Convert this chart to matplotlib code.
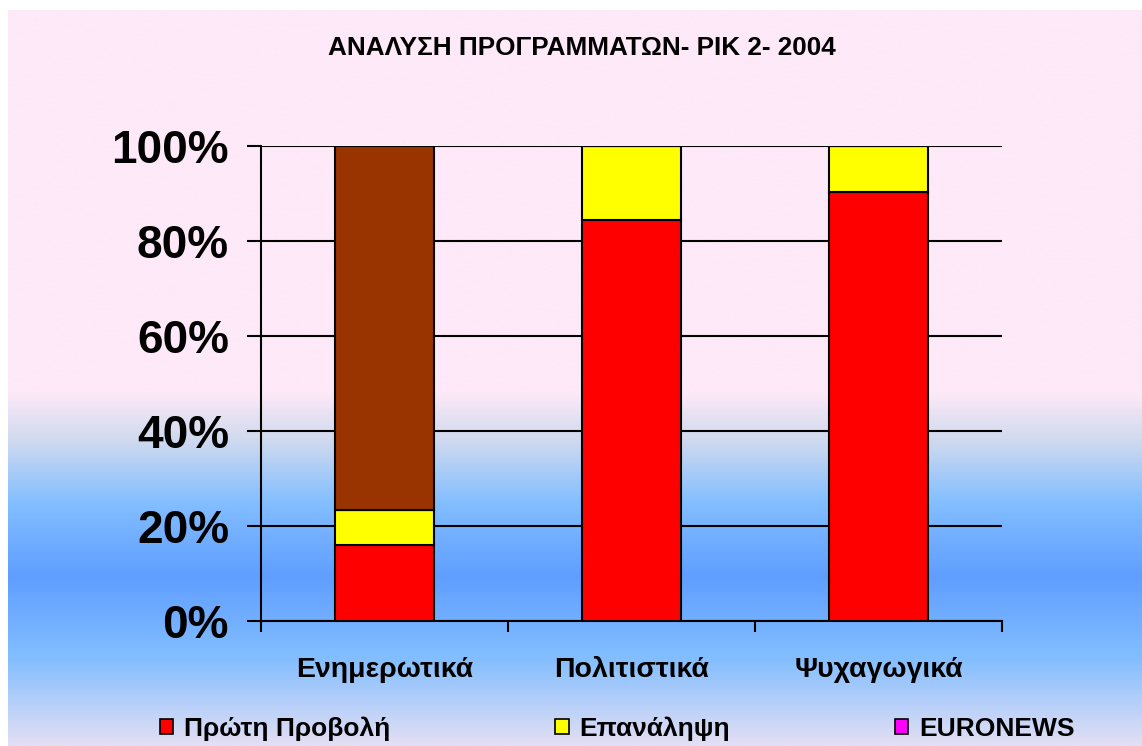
import numpy as np
import matplotlib
matplotlib.use("Agg")
import matplotlib.pyplot as plt
from matplotlib.patches import Patch
from matplotlib.colors import LinearSegmentedColormap

plt.rcParams['font.family'] = ['Liberation Sans', 'DejaVu Sans']
plt.rcParams['font.weight'] = 'bold'

# data (percent of each category)
categories = ['Ενημερωτικά', 'Πολιτιστικά', 'Ψυχαγωγικά']
first_run = [16.0, 84.4, 90.3]     # Πρώτη Προβολή
repeat = [7.4, 15.6, 9.7]          # Επανάληψη
euronews = [0.0, 0.0, 0.0]         # EURONEWS
other = [76.6, 0.0, 0.0]           # brown series (not in legend)
yticks = [0, 20, 40, 60, 80, 100]

W, H = 1142, 746
fig = plt.figure(figsize=(W / 100, H / 100), dpi=100)
fig.patch.set_facecolor('white')

# background gradient panel (top pink -> blue band -> lavender at bottom)
stops = [(0.0, '#FDE9F8'), ((393 - 10) / 736, '#FDE9F8'), ((440 - 10) / 736, '#D0DAEE'),
         ((503 - 10) / 736, '#83BEFF'), ((578 - 10) / 736, '#5F9EFF'),
         ((660 - 10) / 736, '#83BEFF'), (1.0, '#E3DFF4')]
cmap = LinearSegmentedColormap.from_list('bg', stops)
bg = fig.add_axes([8 / W, 0, 1 - 8 / W, 736 / H])
bg.imshow(np.linspace(0, 1, 500).reshape(-1, 1), cmap=cmap, aspect='auto',
          interpolation='bilinear')
bg.axis('off')

ax = fig.add_axes([261 / W, 1 - 621 / H, 741 / W, 475 / H])
ax.patch.set_alpha(0)

x = np.arange(len(categories))
bw = 0.4
ec = dict(edgecolor='black', linewidth=1.5)
b = np.zeros(len(categories))
for vals, col in [(first_run, '#FF0000'), (repeat, '#FFFF00'),
                  (euronews, '#FF00FF'), (other, '#993300')]:
    ax.bar(x, vals, bw, bottom=b, color=col, zorder=3, **ec)
    b = b + np.array(vals)

ax.set_xlim(-0.5, len(categories) - 0.5)
ax.set_ylim(0, 100)
ax.set_yticks(yticks)
ax.set_yticklabels([f'{v}%' for v in yticks], fontsize=33, fontweight='bold')
ax.tick_params(axis='y', direction='out', length=10, width=1.5, pad=13)
ax.yaxis.grid(True, color='black', linewidth=1.5, zorder=0)
ax.set_axisbelow(True)

ax.set_xticks(x)
ax.set_xticklabels(categories, fontsize=20.5, fontweight='bold')
ax.tick_params(axis='x', which='major', length=0, pad=26)
ax.set_xticks(np.arange(len(categories) + 1) - 0.5, minor=True)
ax.tick_params(axis='x', which='minor', direction='out', length=8, width=1.5)

for s in ['top', 'right']:
    ax.spines[s].set_visible(False)
for s in ['left', 'bottom']:
    ax.spines[s].set_linewidth(1.5)

fig.text(582 / W, 1 - 48 / H, 'ΑΝΑΛΥΣΗ ΠΡΟΓΡΑΜΜΑΤΩΝ- ΡΙΚ 2- 2004', ha='center',
         va='center', fontsize=18.8, fontweight='bold')

handles = [Patch(facecolor='#FF0000', edgecolor='black', linewidth=1.2),
           Patch(facecolor='#FFFF00', edgecolor='black', linewidth=1.2),
           Patch(facecolor='#FF00FF', edgecolor='black', linewidth=1.2)]
fig.legend(handles, ['Πρώτη Προβολή', 'Επανάληψη', 'EURONEWS'], ncol=3,
           loc='center left', bbox_to_anchor=(160 / W, 1 - 729 / H), frameon=False,
           prop={'size': 19, 'weight': 'bold'}, handlelength=0.5, handleheight=0.5,
           handletextpad=0.42, columnspacing=6.25, borderpad=0, borderaxespad=0)

fig.savefig('out.png', dpi=100)
